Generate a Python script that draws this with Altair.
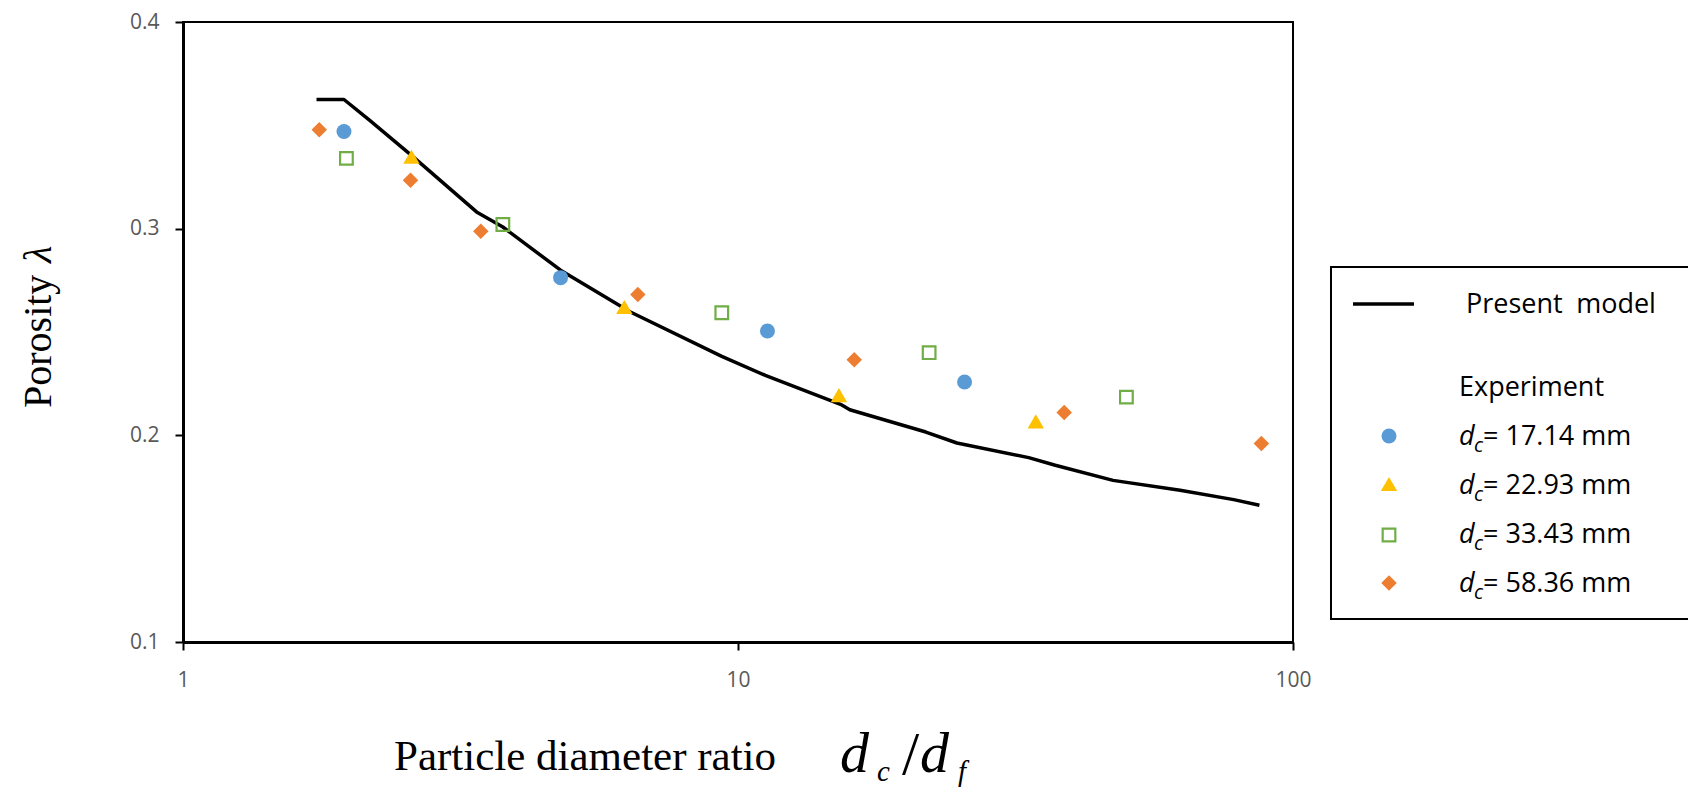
import altair as alt
import pandas as pd

# ---------------- data ----------------
blue_x = [1.95, 4.79, 11.3, 25.6]
blue_y = [0.347, 0.2763, 0.2505, 0.2258]

yellow_x = [2.58, 6.24, 15.2, 34.4]
yellow_y = [0.3348, 0.2621, 0.2195, 0.2068]

green_x = [1.97, 3.77, 9.35, 22.1, 50.1]
green_y = [0.334, 0.302, 0.2593, 0.240, 0.2185]

orange_x = [1.76, 2.57, 3.44, 6.6, 16.2, 38.7, 87.7]
orange_y = [0.3479, 0.3234, 0.2987, 0.2681, 0.2366, 0.211, 0.196]

model_x = [1.74, 1.95, 2.17, 2.58, 3.38, 3.77, 4.79, 6.40, 9.35, 11.2,
           15.3, 15.9, 21.8, 24.8, 33.4, 37.3, 47.4, 62.6, 78.2, 87.0]
model_y = [0.3625, 0.3625, 0.3524, 0.3355, 0.3081, 0.3008, 0.2799, 0.2597, 0.2382, 0.2290,
           0.2150, 0.2124, 0.2016, 0.1963, 0.1892, 0.1855, 0.1782, 0.1734, 0.1689, 0.1662]

x_ticks = [1, 10, 100]
y_ticks = [0.1, 0.2, 0.3, 0.4]

series_labels = ["= 17.14 mm", "= 22.93 mm", "= 33.43 mm", "= 58.36 mm"]
series_colors = ["#5B9BD5", "#FFC000", "#70AD47", "#ED7D31"]

# ---------------- layout ----------------
W, H = 1110, 620
PAD = {"left": 183, "top": 22, "right": 1688 - 183 - W, "bottom": 790 - 22 - H}

xs = alt.Scale(type="log", domain=[1, 100])
ys = alt.Scale(domain=[0.1, 0.4])

xaxis = alt.Axis(values=x_ticks, format="~g", grid=False, title=None,
                 domainColor="black", domainWidth=3, tickColor="black", tickWidth=2,
                 tickSize=8, labelFont="Open Sans", labelFontSize=21,
                 labelColor="#595959", labelPadding=19, labelFlush=False,
                 labelOverlap=False, labelBound=False)
yaxis = alt.Axis(values=y_ticks, format=".1f", grid=False, title=None,
                 domainColor="black", domainWidth=3, tickColor="black", tickWidth=2,
                 tickSize=8, labelFont="Open Sans", labelFontSize=21,
                 labelColor="#595959", labelPadding=16, labelFlush=False,
                 labelOverlap=False, labelBound=False)

X = alt.X("x:Q", scale=xs, axis=xaxis)
Y = alt.Y("y:Q", scale=ys, axis=yaxis)

model = alt.Chart(pd.DataFrame({"x": model_x, "y": model_y})).mark_line(
    color="black", strokeWidth=3.5, interpolate="linear", strokeJoin="round").encode(x=X, y=Y)

blue = alt.Chart(pd.DataFrame({"x": blue_x, "y": blue_y})).mark_point(
    shape="circle", filled=True, size=225, color=series_colors[0], opacity=1).encode(x=X, y=Y)
yellow = alt.Chart(pd.DataFrame({"x": yellow_x, "y": yellow_y})).mark_point(
    shape="triangle-up", filled=True, size=270, color=series_colors[1], opacity=1).encode(x=X, y=Y)
green = alt.Chart(pd.DataFrame({"x": green_x, "y": green_y})).mark_point(
    shape="square", filled=False, size=160, color=series_colors[2], strokeWidth=2.2,
    opacity=1).encode(x=X, y=Y)
orange = alt.Chart(pd.DataFrame({"x": orange_x, "y": orange_y})).mark_point(
    shape="diamond", filled=True, size=240, color=series_colors[3], opacity=1).encode(x=X, y=Y)

one = pd.DataFrame({"k": [0]})


def txt(s, x, y, **kw):
    return alt.Chart(one).mark_text(text=s, **kw).encode(x=alt.value(x), y=alt.value(y))


OX, OY = PAD["left"], PAD["top"]

# axis titles
serif = "Liberation Serif"
titles = [
    txt("Particle diameter ratio", 394 - OX, 770 - OY, font=serif, fontSize=43,
        align="left", baseline="alphabetic", color="black"),
    txt("d", 840 - OX, 772 - OY, font=serif, fontSize=58, fontStyle="italic",
        align="left", baseline="alphabetic", color="black"),
    txt("c", 877 - OX, 781 - OY, font=serif, fontSize=29, fontStyle="italic",
        align="left", baseline="alphabetic", color="black"),
    txt("/", 902 - OX, 774 - OY, font=serif, fontSize=62,
        align="left", baseline="alphabetic", color="black"),
    txt("d", 920 - OX, 772 - OY, font=serif, fontSize=58, fontStyle="italic",
        align="left", baseline="alphabetic", color="black"),
    txt("f", 958 - OX, 781 - OY, font=serif, fontSize=29, fontStyle="italic",
        align="left", baseline="alphabetic", color="black"),
    txt("Porosity", 51 - OX, 408 - OY, font=serif, fontSize=40, angle=270,
        align="left", baseline="alphabetic", color="black"),
    txt("λ", 51 - OX, 263 - OY, font=serif, fontSize=40, fontStyle="italic", angle=270,
        align="left", baseline="alphabetic", color="black"),
]

# legend
sans = "Open Sans"
legend = [
    alt.Chart(one).mark_rect(fill="white", stroke="black", strokeWidth=2).encode(
        x=alt.value(1331 - OX), x2=alt.value(1720 - OX),
        y=alt.value(267 - OY), y2=alt.value(619 - OY)),
    alt.Chart(one).mark_rule(color="black", strokeWidth=3.5).encode(
        x=alt.value(1353 - OX), x2=alt.value(1414 - OX), y=alt.value(304 - OY)),
    txt("Present\u2002model", 1466 - OX, 313 - OY, font=sans, fontSize=27,
        align="left", baseline="alphabetic", color="black"),
    txt("Experiment", 1459 - OX, 396 - OY, font=sans, fontSize=27,
        align="left", baseline="alphabetic", color="black"),
]
shapes = ["circle", "triangle-up", "square", "diamond"]
sizes = [225, 270, 160, 240]
row_sym_y = [436, 484, 535, 583]
row_base = [445, 494, 543, 592]
for i in range(4):
    filled = shapes[i] != "square"
    legend.append(alt.Chart(one).mark_point(
        shape=shapes[i], filled=filled, size=sizes[i], color=series_colors[i],
        strokeWidth=2.2, opacity=1).encode(
        x=alt.value(1389 - OX), y=alt.value(row_sym_y[i] - OY)))
    legend.append(txt("d", 1459 - OX, row_base[i] - OY, font=sans, fontSize=27,
                      fontStyle="italic", align="left", baseline="alphabetic", color="black"))
    legend.append(txt("c", 1474 - OX, row_base[i] + 7 - OY, font=sans, fontSize=20,
                      fontStyle="italic", align="left", baseline="alphabetic", color="black"))
    legend.append(txt(series_labels[i], 1483 - OX, row_base[i] - OY, font=sans, fontSize=27,
                      align="left", baseline="alphabetic", color="black"))

chart = alt.layer(model, blue, yellow, green, orange, *titles, *legend).properties(
    width=W, height=H,
    autosize=alt.AutoSizeParams(type="none"),
    padding=PAD,
    background="white",
).configure_view(stroke="black", strokeWidth=2)

chart.save("out.html", embed_options={"renderer": "svg", "actions": False})
